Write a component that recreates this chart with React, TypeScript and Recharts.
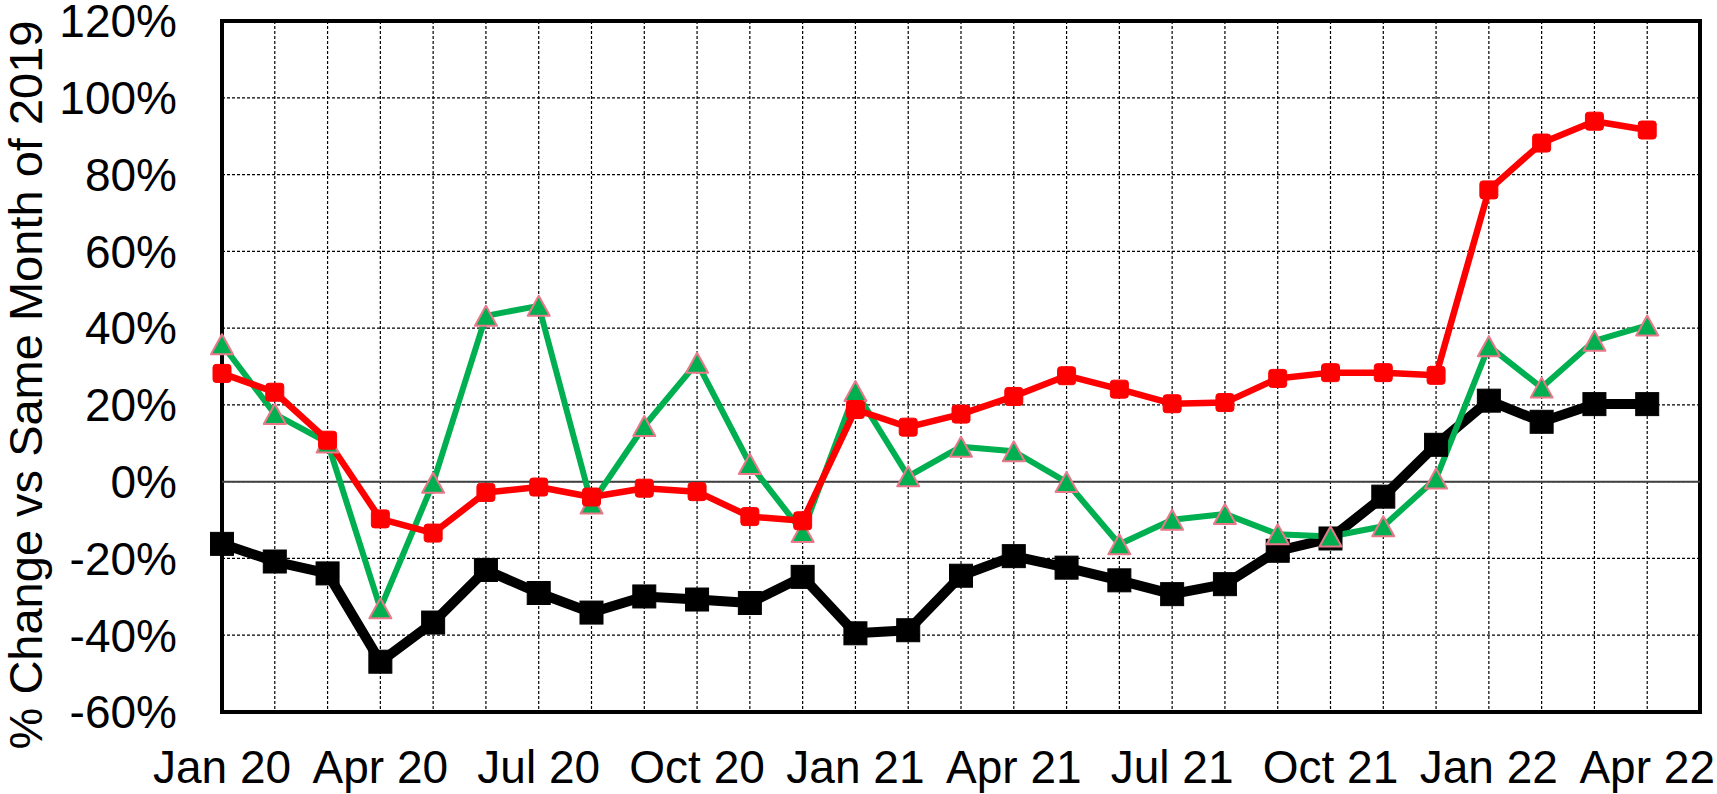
import { LineChart, Line, XAxis, YAxis, CartesianGrid, ReferenceLine, ReferenceArea } from 'recharts';

const months = [
  'Jan 20', 'Feb 20', 'Mar 20', 'Apr 20', 'May 20', 'Jun 20', 'Jul 20', 'Aug 20', 'Sep 20', 'Oct 20', 'Nov 20', 'Dec 20',
  'Jan 21', 'Feb 21', 'Mar 21', 'Apr 21', 'May 21', 'Jun 21', 'Jul 21', 'Aug 21', 'Sep 21', 'Oct 21', 'Nov 21', 'Dec 21',
  'Jan 22', 'Feb 22', 'Mar 22', 'Apr 22',
];
const labelledMonths = ['Jan 20', 'Apr 20', 'Jul 20', 'Oct 20', 'Jan 21', 'Apr 21', 'Jul 21', 'Oct 21', 'Jan 22', 'Apr 22'];
const yTicks = [-60, -40, -20, 0, 20, 40, 60, 80, 100, 120];

// % change vs same month of 2019
const blackValues = [
  -16.2, -20.8, -23.9, -46.9, -36.7, -23.0, -29.0, -34.1, -29.9, -30.7, -31.6, -24.8,
  -39.5, -38.7, -24.5, -19.4, -22.4, -25.7, -29.3, -26.7, -18.0, -14.8, -3.9, 9.6,
  21.1, 15.6, 20.2, 20.2,
];
const redValues = [
  28.2, 23.3, 10.8, -9.7, -13.4, -2.8, -1.4, -4.0, -1.7, -2.6, -9.1, -10.2,
  18.8, 14.2, 17.6, 22.2, 27.6, 24.1, 20.3, 20.6, 26.9, 28.4, 28.4, 27.7,
  76.0, 88.2, 93.9, 91.6,
];
const greenValues = [
  35.8, 17.6, 10.2, -33.0, -0.3, 43.2, 45.8, -5.7, 14.5, 31.0, 4.6, -13.1,
  23.6, 1.4, 9.1, 7.9, -0.1, -16.3, -9.9, -8.4, -13.7, -14.3, -11.6, 0.8,
  35.3, 24.5, 36.7, 40.7,
];

const data = months.map((m, i) => ({
  idx: i,
  month: m,
  black: blackValues[i],
  red: redValues[i],
  green: greenValues[i],
}));

const FONT = '"Liberation Sans", Arial, sans-serif';

const squareDot = (size: number, color: string, radius: number) => (props: any) => {
  const { cx, cy, index } = props;
  if (cx == null || cy == null) return <g key={`s${index}`} />;
  return (
    <rect
      key={`s${index}`}
      x={cx - size / 2}
      y={cy - size / 2}
      width={size}
      height={size}
      rx={radius}
      fill={color}
      stroke={color}
      strokeWidth={1}
    />
  );
};

const triangleDot = (props: any) => {
  const { cx, cy, index } = props;
  if (cx == null || cy == null) return <g key={`t${index}`} />;
  const w = 22;
  const h = 20;
  const d = `M${cx},${cy - h / 2} L${cx + w / 2},${cy + h / 2} L${cx - w / 2},${cy + h / 2} Z`;
  return <path key={`t${index}`} d={d} fill="#00B050" stroke="#E8788A" strokeWidth={2} strokeLinejoin="round" />;
};

const yTitle = () => (
  <text
    x={42}
    y={385}
    transform="rotate(-90 42 385)"
    textAnchor="middle"
    fontFamily={FONT}
    fontSize={47}
    fill="#000"
  >
    % Change vs Same Month of 2019
  </text>
);

export default function App() {
  return (
    <div style={{ position: 'absolute', left: 0, top: 0, width: 1717, height: 794, background: '#fff' }}>
      <LineChart width={1717} height={794} data={data} margin={{ top: 21, right: 17, bottom: 0, left: 0 }}>
        <CartesianGrid stroke="#000" strokeWidth={1.2} strokeDasharray="3 2" />
        <XAxis
          dataKey="idx"
          type="number"
          domain={[0, months.length]}
          ticks={months.map((_, i) => i)}
          interval={0}
          tickFormatter={(i: number) => (labelledMonths.includes(months[i]) ? months[i] : '')}
          axisLine={false}
          tickLine={false}
          tickSize={0}
          tickMargin={38}
          height={82}
          tick={{ fontSize: 46, fill: '#000', fontFamily: FONT }}
        />
        <YAxis
          type="number"
          domain={[-60, 120]}
          ticks={yTicks}
          interval={0}
          tickFormatter={(v: number) => `${v}%`}
          axisLine={false}
          tickLine={false}
          tickSize={0}
          tickMargin={45}
          width={222}
          tick={{ fontSize: 46, fill: '#000', fontFamily: FONT }}
          label={{ value: '% Change vs Same Month of 2019', content: yTitle }}
        />
        <ReferenceLine y={0} stroke="#404040" strokeWidth={2} />
        <ReferenceArea x1={0} x2={months.length} y1={-60} y2={120} fill="none" stroke="#000" strokeWidth={4} />
        <Line
          dataKey="black"
          stroke="#000"
          strokeWidth={10}
          strokeLinejoin="round"
          dot={squareDot(23, '#000', 0)}
          activeDot={false}
          isAnimationActive={false}
        />
        <Line
          dataKey="green"
          stroke="#00B050"
          strokeWidth={6}
          strokeLinejoin="round"
          dot={triangleDot}
          activeDot={false}
          isAnimationActive={false}
        />
        <Line
          dataKey="red"
          stroke="#FF0000"
          strokeWidth={6.5}
          strokeLinejoin="round"
          dot={squareDot(18, '#FF0000', 3)}
          activeDot={false}
          isAnimationActive={false}
        />
      </LineChart>
    </div>
  );
}
